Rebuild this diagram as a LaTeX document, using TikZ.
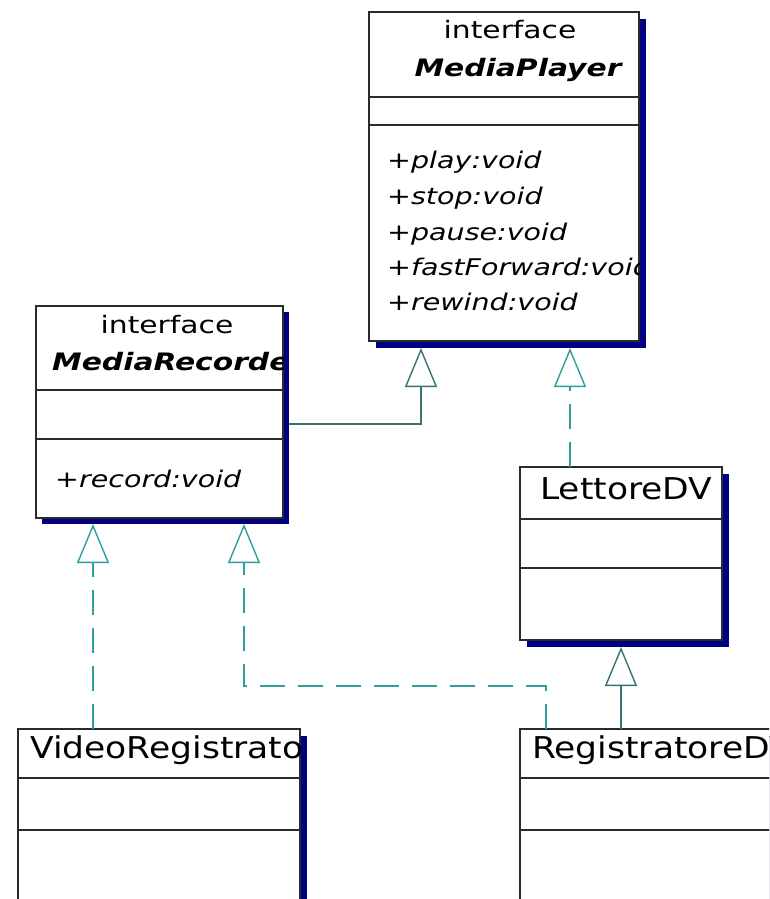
\documentclass[tikz,border=0pt]{standalone}
\usepackage{fontspec}
\setmainfont{DejaVu Sans}
\newfontfamily\clsfont[FakeStretch=1.15]{DejaVu Sans}
\newfontfamily\ifcfont[FakeStretch=1.24]{DejaVu Sans}
\newfontfamily\mthfont[FakeStretch=1.24]{DejaVu Sans}
\usetikzlibrary{arrows.meta,shadows,calc}
\definecolor{shadownavy}{HTML}{000080}
\definecolor{solidteal}{HTML}{3A7272}
\definecolor{dashteal}{HTML}{2E9E9E}
\definecolor{boxline}{HTML}{2B2B2B}
\tikzset{
  umlbox/.style={rectangle, draw=boxline, fill=white, line width=1.3pt,
    inner sep=0pt, outer sep=0pt, anchor=north west,
    general shadow={fill=shadownavy, shadow xshift=#1, shadow yshift=-#1}},
  umlbox/.default=7pt,
  divline/.style={draw=boxline, line width=1.3pt},
  ifctext/.style={inner sep=0pt, anchor=base, font=\ifcfont\fontsize{24}{28}\selectfont},
  ifcname/.style={inner sep=0pt, font=\ifcfont\bfseries\itshape\fontsize{24}{28}\selectfont},
  mthtext/.style={inner sep=0pt, anchor=base west, font=\mthfont\itshape\fontsize{23}{27}\selectfont},
  clsname/.style={inner sep=0pt, anchor=base west, font=\clsfont\fontsize{30}{36}\selectfont},
  gentip/.style={-{Triangle[open, fill=white, length=39pt, width=32pt]}},
  gen/.style={draw=solidteal, line width=1.4pt, gentip},
  real/.style={draw=dashteal, line width=1.4pt, dash pattern=on 25pt off 13pt, gentip},
}
\begin{document}
\begin{tikzpicture}[x=1pt, y=-1pt]
\path[use as bounding box, clip] (0,0) rectangle (769,899);
\fill[white] (0,0) rectangle (769,899);

% boxes
\node[umlbox=7pt, minimum width=270pt, minimum height=329pt] (mp) at (369,12) {};
\node[umlbox=6pt, minimum width=247pt, minimum height=212pt] (mr) at (36,306) {};
\node[umlbox=7pt, minimum width=202pt, minimum height=173pt] (ld) at (520,467) {};
\node[umlbox=7pt, minimum width=282pt, minimum height=260pt] (vr) at (18,729) {};
\node[umlbox=7pt, minimum width=300pt, minimum height=260pt] (rd) at (520,729) {};

% dividers
\draw[divline] (mp.west |- 0,97) -- (mp.east |- 0,97);
\draw[divline] (mp.west |- 0,125) -- (mp.east |- 0,125);
\draw[divline] (mr.west |- 0,390) -- (mr.east |- 0,390);
\draw[divline] (mr.west |- 0,439) -- (mr.east |- 0,439);
\draw[divline] (ld.west |- 0,519) -- (ld.east |- 0,519);
\draw[divline] (ld.west |- 0,568) -- (ld.east |- 0,568);
\draw[divline] (vr.west |- 0,778) -- (vr.east |- 0,778);
\draw[divline] (vr.west |- 0,830) -- (vr.east |- 0,830);
\draw[divline] (rd.west |- 0,778) -- (rd.east |- 0,778);
\draw[divline] (rd.west |- 0,830) -- (rd.east |- 0,830);

% MediaPlayer texts
\begin{scope}
\clip (mp.north west) rectangle (mp.south east);
\node[ifctext] (mpst) at (510,39) {interface};
\node[ifcname, anchor=base] (mpname) at (518,77) {MediaPlayer};
\node[mthtext] (m1) at (387,168) {+play:void};
\node[mthtext] (m2) at (387,204) {+stop:void};
\node[mthtext] (m3) at (387,240) {+pause:void};
\node[mthtext] (m4) at (387,275) {+fastForward:void};
\node[mthtext] (m5) at (387,310) {+rewind:void};
\end{scope}

% MediaRecorder texts
\begin{scope}
\clip (mr.north west) rectangle (mr.south east);
\node[ifctext] (mrst) at (167,333) {interface};
\node[ifcname, anchor=base west] (mrname) at (52,370) {MediaRecorder};
\node[mthtext] (r1) at (55,487) {+record:void};
\end{scope}

% LettoreDV
\node[clsname] (ldname) at (540,499) {LettoreDV};

% VideoRegistratore
\begin{scope}
\clip (vr.north west) rectangle (vr.south east);
\node[clsname] (vrname) at (30,758) {VideoRegistratore};
\end{scope}

% RegistratoreDV
\node[clsname] (rdname) at (532,758) {RegistratoreDV};

% connectors
\draw[gen] ($(mr.north east)+(6,118)$) -| ($(mp.south west)+(52,7)$);
\draw[real] ($(ld.north west)+(50,0)$) -- ($(mp.south west)+(201,7)$);
\draw[real] ($(vr.north west)+(75,0)$) -- ($(mr.south west)+(57,6)$);
\draw[real] ($(rd.north west)+(26,0)$) -- ++(0,-43) -| ($(mr.south west)+(208,6)$);
\draw[gen] ($(rd.north west)+(101,0)$) -- ($(ld.south west)+(101,7)$);
\end{tikzpicture}
\end{document}
